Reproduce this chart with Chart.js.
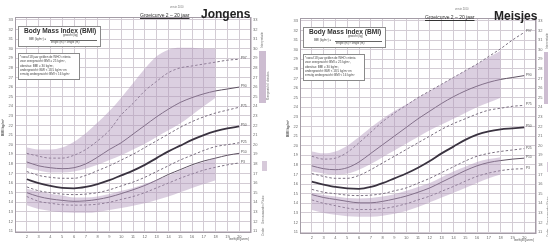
<!DOCTYPE html>
<html><head><meta charset="utf-8">
<script src="https://cdn.jsdelivr.net/npm/chart.js@4.4.1/dist/chart.umd.min.js"></script>
<style>
html,body{margin:0;padding:0;background:#fff;}
body{width:548px;height:242px;position:relative;overflow:hidden;font-family:"Liberation Sans",Arial,sans-serif;}
.panel{position:absolute;top:0;width:272px;height:242px;}
canvas{position:absolute;left:0;top:0;}
.t{position:absolute;white-space:nowrap;color:#333;line-height:1;}
.box{position:absolute;border:0.8px solid #8a8a8a;background:#fff;}
.lab{position:absolute;white-space:nowrap;font-size:3.4px;color:#555;line-height:1;}
.rot{position:absolute;white-space:nowrap;line-height:1;transform-origin:0 0;transform:rotate(-90deg);color:#777;}
.strip{position:absolute;background:#cdbdd1;}
</style>
</head><body>
<div class="panel" id="pL" style="left:0;top:0"><canvas id="cL" width="272" height="242"></canvas></div>
<div class="panel" id="pR" style="left:285px;top:1px"><canvas id="cR" width="272" height="242"></canvas></div>
<script>
// ---- data ----
const ages = [2,3,4,5,6,7,8,9,10,11,12,13,14,15,16,17,18,19,20];
const shadeAges = [2,3,4,5,6,7,8,9,10,11,12,13,14,15,16,17,18];
const curveLabels = ['P97','P90','P75','P50','P25','P10','P3'];
const yTickValues = [11,12,13,14,15,16,17,18,19,20,21,22,23,24,25,26,27,28,29,30,31,32,33];
const xTickValues = [1,2,3,4,5,6,7,8,9,10,11,12,13,14,15,16,17,18,19,20,21];
const xTickLabels = ['','2','3','4','5','6','7','8','9','10','11','12','13','14','15','16','17','18','19','20',''];

// Jongens
const boysP97 = [19.1,18.8,18.6,18.6,18.9,19.5,20.4,21.5,23.1,24.3,25.6,26.6,27.5,28.0,28.2,28.4,28.6,28.8,28.9];
const boysP90 = [18.2,17.8,17.6,17.5,17.6,18.0,18.7,19.5,20.2,21.1,22.0,22.9,23.7,24.4,24.9,25.3,25.6,25.8,26.0];
const boysP75 = [17.2,16.8,16.6,16.5,16.5,16.8,17.3,17.8,18.4,19.0,19.7,20.4,21.1,21.8,22.4,22.9,23.3,23.6,23.9];
const boysP50 = [16.4,16.0,15.7,15.5,15.45,15.6,15.9,16.3,16.8,17.3,17.9,18.6,19.3,19.9,20.5,21.0,21.4,21.7,21.9];
const boysP25 = [15.6,15.2,15.0,14.85,14.8,14.85,15.0,15.3,15.7,16.1,16.6,17.2,17.8,18.4,18.9,19.4,19.8,20.0,20.2];
const boysP10 = [15.0,14.6,14.35,14.2,14.1,14.15,14.3,14.55,14.9,15.3,15.75,16.3,16.9,17.4,17.9,18.3,18.6,18.9,19.1];
const boysP3  = [14.6,14.1,13.9,13.75,13.7,13.72,13.8,14.0,14.3,14.6,15.0,15.5,16.0,16.5,16.95,17.35,17.65,17.9,18.1];
const boysUpperTop    = [19.7,19.5,19.5,19.7,20.3,21.2,22.3,23.5,24.9,26.4,27.9,29.2,29.9,30.1,30.1,30.0,30.0];
const boysUpperBottom = [17.6,17.3,17.1,17.1,17.2,17.5,17.9,18.4,18.9,19.5,20.1,20.8,21.5,22.2,23.1,24.0,24.9];
const boysLowerTop    = [15.4,15.1,14.9,14.7,14.5,14.5,14.6,14.85,15.2,15.5,15.9,16.35,16.8,17.3,17.8,18.2,18.6];
const boysLowerBottom = [13.7,13.3,13.1,12.95,12.9,12.9,13.0,13.2,13.4,13.65,13.9,14.25,14.6,15.05,15.5,15.9,16.3];

// Meisjes
const girlsP97 = [18.9,18.6,18.7,19.3,20.3,21.4,22.5,23.4,24.2,25.0,25.7,26.4,27.1,27.8,28.5,29.3,30.1,31.0,31.8];
const girlsP90 = [17.9,17.6,17.5,17.7,18.3,19.2,20.1,21.0,21.9,22.8,23.6,24.4,25.1,25.7,26.2,26.6,26.9,27.1,27.3];
const girlsP75 = [17.1,16.8,16.6,16.6,16.9,17.5,18.2,18.9,19.6,20.3,21.0,21.7,22.3,22.8,23.3,23.7,23.9,24.1,24.2];
const girlsP50 = [16.25,15.95,15.7,15.55,15.5,15.7,16.1,16.6,17.1,17.7,18.4,19.2,19.9,20.6,21.15,21.5,21.7,21.8,21.9];
const girlsP25 = [15.45,15.15,15.0,14.85,14.8,14.85,15.0,15.3,15.6,16.1,16.6,17.2,17.8,18.4,18.9,19.2,19.4,19.55,19.7];
const girlsP10 = [14.9,14.6,14.4,14.2,14.05,14.05,14.2,14.45,14.75,15.15,15.6,16.2,16.8,17.4,17.9,18.25,18.45,18.6,18.7];
const girlsP3  = [14.35,14.0,13.75,13.5,13.35,13.35,13.45,13.65,13.95,14.35,14.75,15.25,15.75,16.3,16.8,17.15,17.4,17.55,17.6];
const girlsUpperTop    = [19.4,19.2,19.4,20.0,20.9,21.9,22.8,23.6,24.3,25.0,25.7,26.4,27.1,27.8,28.5,29.2,29.9];
const girlsUpperBottom = [17.3,17.1,17.0,17.1,17.5,18.1,18.8,19.5,20.2,20.9,21.6,22.2,22.8,23.4,24.0,24.5,25.0];
const girlsLowerTop    = [15.1,14.85,14.7,14.55,14.5,14.55,14.7,14.95,15.3,15.7,16.1,16.7,17.3,17.8,18.3,18.6,18.8];
const girlsLowerBottom = [13.3,13.0,12.8,12.65,12.6,12.6,12.7,12.9,13.2,13.6,14.1,14.6,15.1,15.6,16.1,16.6,17.0];

// ---- styles ----
const SHADE = 'rgba(176,148,186,0.45)';
const GRID = '#d3ccd4';
const styles = [
  {c:'#7b7080', w:1, d:[2.5,2]},
  {c:'#5e5262', w:1, d:[]},
  {c:'#7b7080', w:1, d:[2.5,2]},
  {c:'#3a3340', w:1.8, d:[]},
  {c:'#7b7080', w:1, d:[2.5,2]},
  {c:'#5e5262', w:1, d:[]},
  {c:'#7b7080', w:1, d:[2.5,2]}
];
Chart.defaults.font.family = '"Liberation Sans", Arial, sans-serif';

function pts(xs, ys){ return xs.map((x,i)=>({x:x, y:ys[i]})); }

const frame = {
  id:'frame',
  beforeDatasetsDraw(c){
    const a=c.chartArea, ctx=c.ctx;
    ctx.save(); ctx.strokeStyle='#a49ca6'; ctx.lineWidth=1;
    ctx.strokeRect(Math.round(a.left)+0.5, Math.round(a.top)+0.5, Math.round(a.right-a.left)-1, Math.round(a.bottom-a.top)-1);
    ctx.restore();
  }
};

function makeChart(canvasId, panelId, series, shades){
  const ds = [];
  const shadeSet = (top, bot) => {
    ds.push({data:pts(shadeAges, top), borderWidth:0, pointRadius:0, fill:'+1', backgroundColor:SHADE, cubicInterpolationMode:'monotone'});
    ds.push({data:pts(shadeAges, bot), borderWidth:0, pointRadius:0, fill:false, cubicInterpolationMode:'monotone'});
  };
  shadeSet(shades[0], shades[1]);
  shadeSet(shades[2], shades[3]);
  series.forEach((s,i)=>{
    ds.push({data:pts(ages, s), borderColor:styles[i].c, borderWidth:styles[i].w, borderDash:styles[i].d,
      pointRadius:0, fill:false, cubicInterpolationMode:'monotone'});
  });
  const yCommon = {
    min:10.8, max:33.3,
    afterBuildTicks: s => { s.ticks = yTickValues.map(v=>({value:v})); },
    ticks:{font:{size:4}, color:'#6a6a6a', padding:2},
  };
  const chart = new Chart(document.getElementById(canvasId), {
    type:'line',
    data:{datasets:ds},
    plugins:[frame],
    options:{
      responsive:false, animation:false, devicePixelRatio:1,
      layout:{padding:{top:17,left:0,right:0,bottom:0}},
      plugins:{legend:{display:false}, tooltip:{enabled:false}},
      scales:{
        x:{type:'linear', min:1, max:21,
          afterBuildTicks: s => { s.ticks = xTickValues.map(v=>({value:v})); },
          afterFit: s => { s.height = 9; },
          ticks:{font:{size:4}, color:'#6a6a6a', padding:1, maxRotation:0, autoSkip:false,
            callback:(v,i)=> xTickLabels[i]},
          grid:{color:GRID, lineWidth:1, drawTicks:false},
          border:{display:false}},
        y:Object.assign({position:'left', afterFit: s => { s.width = 15; },
          grid:{color:GRID, lineWidth:1, drawTicks:false}, border:{display:false}}, yCommon),
        y2:Object.assign({position:'right', afterFit: s => { s.width = 21; },
          grid:{display:false, drawTicks:false}, border:{display:false}}, yCommon)
      }
    }
  });
  const panel = document.getElementById(panelId);
  const xs = chart.scales.x, ys = chart.scales.y;
  series.forEach((s,i)=>{
    const sp = document.createElement('span');
    sp.className='lab'; sp.textContent = curveLabels[i];
    sp.style.left = (xs.getPixelForValue(ages[ages.length-1]) + 1.5) + 'px';
    sp.style.top = (ys.getPixelForValue(s[s.length-1]) - 2) + 'px';
    panel.appendChild(sp);
  });
  return chart;
}

function addTexts(panelId, title, dy){
  const p = document.getElementById(panelId);
  const html = `
  <div class="t" style="left:170px;top:${7+dy}px;font-size:2.6px;color:#777">versie 2010</div>
  <div class="t" style="left:140px;top:${13+dy}px;font-size:5px;text-decoration:underline;color:#333">Groeicurve 2 – 20 jaar</div>
  <div class="t" style="left:${title==='Jongens'?201:209}px;top:${8+dy}px;font-size:12px;font-weight:bold;color:#222">${title}</div>
  <div class="box" style="left:18px;top:26px;width:81px;height:19px"></div>
  <div class="t" style="left:24px;top:27.5px;font-size:6.6px;font-weight:bold;color:#333">Body Mass Index (BMI)</div>
  <div class="t" style="left:63px;top:34px;font-size:2.8px;color:#444">gewicht (kg)</div>
  <div class="t" style="left:29px;top:37.5px;font-size:2.8px;color:#444">BMI (kg/m²) =</div>
  <div style="position:absolute;left:50px;top:39.5px;width:47px;height:0;border-top:0.6px solid #666"></div>
  <div class="t" style="left:51px;top:40.8px;font-size:2.8px;color:#444">lengte (m) × lengte (m)</div>
  <div class="box" style="left:18px;top:53px;width:60px;height:25px"></div>
  <div class="t" style="left:20px;top:55px;font-size:3px;line-height:4.3px;color:#444">*vanaf 18 jaar gelden de WHO criteria<br>voor overgewicht: BMI ≥ 25 kg/m²,<br>obesitas: BMI ≥ 30 kg/m²,<br>ondergewicht: BMI &lt; 18,5 kg/m² en<br>ernstig ondergewicht: BMI &lt; 16 kg/m²</div>
  <div class="rot" style="left:2px;top:136px;font-size:3.5px;font-weight:bold;color:#555">BMI kg/m²</div>
  <div class="t" style="left:229px;top:238px;font-size:3.3px;color:#555">leeftijd (jaren)</div>
  <div class="rot" style="left:261px;top:48px;font-size:3px">Interpretatie</div>
  <div class="strip" style="left:259px;top:51px;width:7px;height:52px"></div>
  <div class="rot" style="left:267px;top:100px;font-size:2.8px">Overgewicht / obesitas</div>
  <div class="strip" style="left:262px;top:161px;width:5px;height:10px;opacity:0.8"></div>
  <div class="rot" style="left:262px;top:224px;font-size:3px">Grenswaarden Risico</div>
  <div class="rot" style="left:262px;top:236px;font-size:3px">Onder</div>
  `;
  p.insertAdjacentHTML('beforeend', html);
}

makeChart('cL','pL',[boysP97,boysP90,boysP75,boysP50,boysP25,boysP10,boysP3],
  [boysUpperTop,boysUpperBottom,boysLowerTop,boysLowerBottom]);
makeChart('cR','pR',[girlsP97,girlsP90,girlsP75,girlsP50,girlsP25,girlsP10,girlsP3],
  [girlsUpperTop,girlsUpperBottom,girlsLowerTop,girlsLowerBottom]);
addTexts('pL','Jongens',0);
addTexts('pR','Meisjes',1);
</script>
</body></html>
